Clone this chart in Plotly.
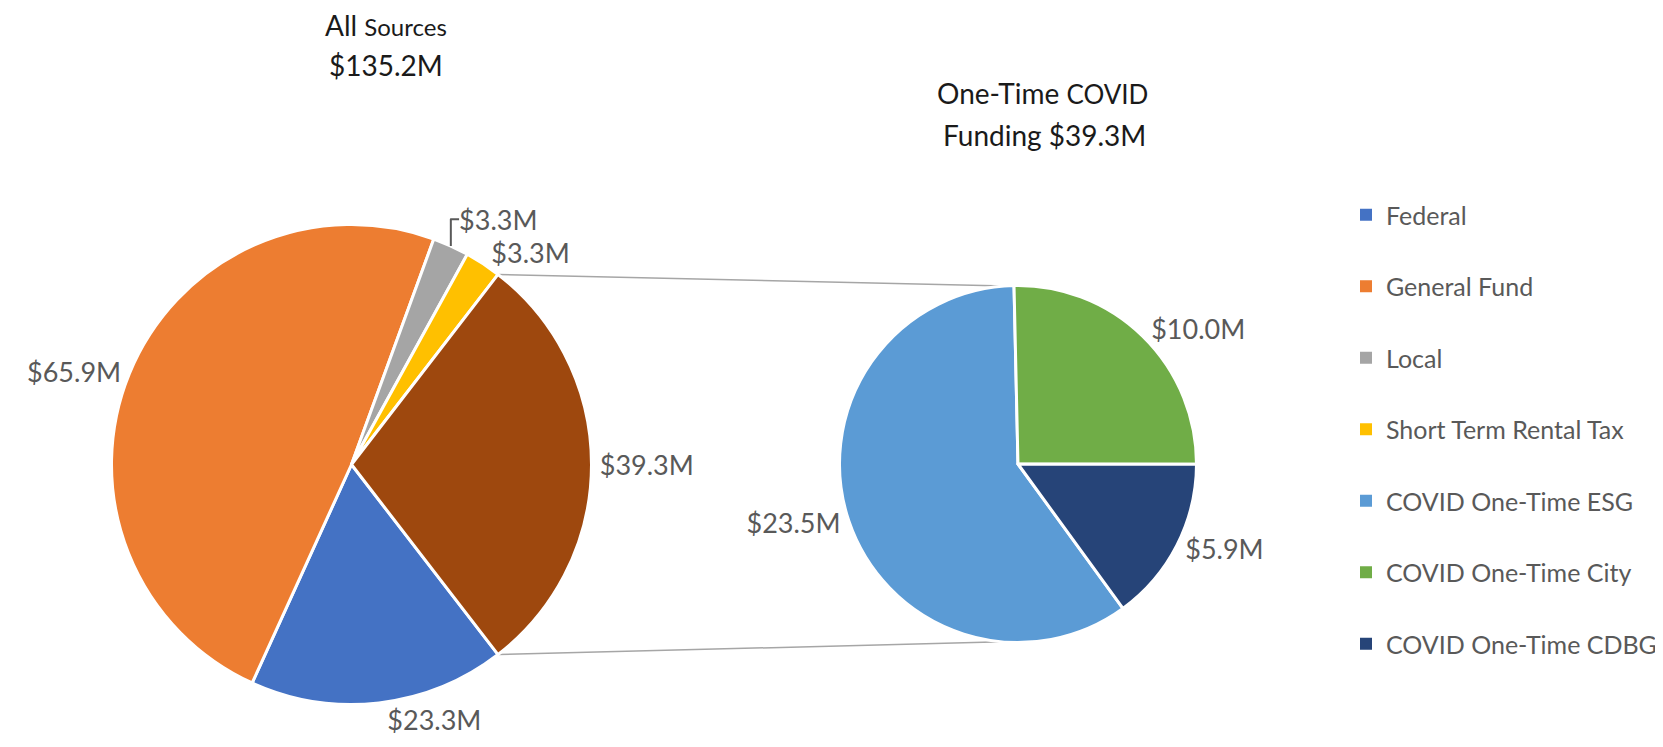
import math
import plotly.graph_objects as go

W, H = 1663, 747

# ---------------- data ----------------
main_labels = ["Federal", "General Fund", "Local", "Short Term Rental Tax", "One-Time COVID"]
main_values = [23.3, 65.9, 3.3, 3.3, 39.3]
main_colors = ["#4472C4", "#ED7D31", "#A5A5A5", "#FFC000", "#9E480E"]

covid_labels = ["COVID One-Time ESG", "COVID One-Time City", "COVID One-Time CDBG"]
covid_values = [23.5, 10.0, 5.9]
covid_colors = ["#5B9BD5", "#70AD47", "#264478"]

legend_labels = main_labels[:4] + covid_labels
legend_colors = main_colors[:4] + covid_colors

main_title = ["All", "Sources", "$135.2M"]
covid_title = ["One-Time", "COVID", "Funding $39.3M"]

FONT = "Lato"
GREY = "#595959"

# ---------------- geometry (pixels) ----------------
L_CX, L_CY, L_R = 343.5, 456.5, 240.0
R_CX, R_CY, R_R = 1010.0, 456.0, 178.5


def dom(cx, cy, r):
    return dict(x=[(cx - r) / W, (cx + r) / W], y=[1 - (cy + r) / H, 1 - (cy - r) / H])


total = sum(main_values)
covid_share_deg = 360.0 * main_values[-1] / total
left_rotation = 90 + covid_share_deg / 2  # "other" slice centred at 3 o'clock
right_rotation = 144

fig = go.Figure()

fig.add_trace(go.Pie(
    labels=main_labels, values=main_values, sort=False, direction="clockwise",
    rotation=left_rotation, domain=dom(L_CX, L_CY, L_R),
    marker=dict(colors=main_colors, line=dict(color="white", width=3)),
    texttemplate="$%{value:.1f}M", textposition="outside",
    textfont=dict(family=FONT, size=27, color=GREY),
    showlegend=False, hoverinfo="skip",
))

fig.add_trace(go.Pie(
    labels=covid_labels, values=covid_values, sort=False, direction="clockwise",
    rotation=right_rotation, domain=dom(R_CX, R_CY, R_R),
    marker=dict(colors=covid_colors, line=dict(color="white", width=3)),
    texttemplate="$%{value:.1f}M", textposition="outside",
    textfont=dict(family=FONT, size=27, color=GREY),
    showlegend=False, hoverinfo="skip",
))

# legend entries
for name, col in zip(legend_labels, legend_colors):
    fig.add_trace(go.Scatter(
        x=[None], y=[None], mode="markers", name=name, legendgroup=name,
        marker=dict(symbol="square", size=12, color=col),
    ))

# connector lines between the COVID slice and the second pie
a1 = math.radians(left_rotation - covid_share_deg)
a2 = math.radians(left_rotation)
p1 = (L_CX + L_R * math.sin(a1), L_CY - L_R * math.cos(a1))
p2 = (L_CX + L_R * math.sin(a2), L_CY - L_R * math.cos(a2))
b1 = math.radians(-4)
b2 = math.radians(185)
q1 = (R_CX + R_R * math.sin(b1), R_CY - R_R * math.cos(b1))
q2 = (R_CX + R_R * math.sin(b2), R_CY - R_R * math.cos(b2))
shapes = []
for (x0, y0), (x1, y1) in [(p1, q1), (p2, q2)]:
    shapes.append(dict(type="line", xref="paper", yref="paper",
                       x0=x0 / W, y0=1 - y0 / H, x1=x1 / W, y1=1 - y1 / H,
                       line=dict(color="#A6A6A6", width=1.5), layer="below"))

annotations = [
    dict(text=f"{main_title[0]} <span style='font-size:24px'>{main_title[1]}</span>",
         x=378 / W, y=1 - 17 / H),
    dict(text=main_title[2], x=378 / W, y=1 - 57 / H),
    dict(text=f"{covid_title[0]} <span style='font-size:26px'>{covid_title[1]}</span>",
         x=1034 / W, y=1 - 85 / H),
    dict(text=covid_title[2], x=1036 / W, y=1 - 127 / H),
]
for a in annotations:
    a.update(xref="paper", yref="paper", xanchor="center", yanchor="middle",
             showarrow=False, font=dict(family=FONT, size=28, color="#1a1a1a"))

fig.update_layout(
    width=W, height=H, margin=dict(l=0, r=0, t=0, b=0),
    paper_bgcolor="white", plot_bgcolor="white",
    xaxis=dict(visible=False), yaxis=dict(visible=False),
    shapes=shapes, annotations=annotations,
    legend=dict(x=1338 / W, y=1 - 184 / H, xanchor="left", yanchor="top",
                font=dict(family=FONT, size=25, color=GREY),
                tracegroupgap=36, itemwidth=30, bgcolor="rgba(0,0,0,0)"),
    hovermode=False,
)

fig.write_html("out.html")
